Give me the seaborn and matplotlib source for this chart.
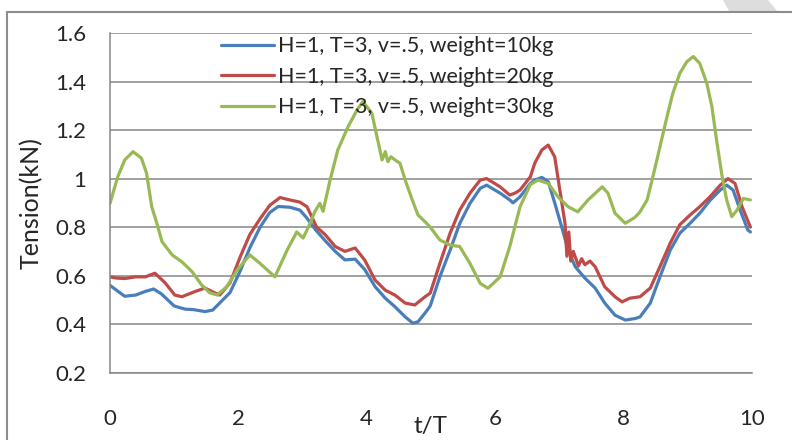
import matplotlib
matplotlib.use('Agg')
import matplotlib.pyplot as plt
import matplotlib.patches as mpatches
import seaborn as sns
import pandas as pd
import numpy as np

# values (t/T, tension in kN)
t_10kg = [0, 0.1, 0.23, 0.4, 0.55, 0.68, 0.8, 0.9, 1.0, 1.17, 1.3, 1.48, 1.6, 1.72, 1.87,
          2.03, 2.18, 2.34, 2.49, 2.62, 2.8, 2.96, 3.06, 3.2, 3.35, 3.51, 3.66, 3.82, 3.97,
          4.13, 4.29, 4.44, 4.6, 4.72, 4.8, 4.91, 4.99, 5.14, 5.3, 5.45, 5.61, 5.77, 5.87,
          6.08, 6.23, 6.28, 6.39, 6.55, 6.62, 6.73, 6.83, 6.93, 7.04, 7.14, 7.25, 7.4, 7.56,
          7.71, 7.87, 8.03, 8.18, 8.26, 8.42, 8.57, 8.73, 8.88, 9.04, 9.19, 9.35, 9.51, 9.61,
          9.71, 9.82, 9.94, 9.98]
tension_10kg = [0.56, 0.54, 0.515, 0.52, 0.535, 0.545, 0.525, 0.50, 0.475, 0.462, 0.46, 0.452,
                0.458, 0.49, 0.53, 0.62, 0.715, 0.80, 0.86, 0.885, 0.882, 0.87, 0.84, 0.79,
                0.745, 0.70, 0.665, 0.668, 0.625, 0.555, 0.507, 0.472, 0.43, 0.404, 0.41,
                0.446, 0.475, 0.595, 0.705, 0.815, 0.898, 0.96, 0.973, 0.94, 0.912, 0.90,
                0.925, 0.98, 0.994, 1.005, 0.987, 0.90, 0.80, 0.705, 0.637, 0.59, 0.549,
                0.487, 0.437, 0.417, 0.423, 0.43, 0.487, 0.595, 0.705, 0.775, 0.816, 0.857,
                0.91, 0.953, 0.973, 0.953, 0.87, 0.788, 0.78]

t_20kg = [0, 0.1, 0.23, 0.4, 0.55, 0.7, 0.86, 1.01, 1.12, 1.32, 1.48, 1.64, 1.71, 1.87, 2.03,
          2.18, 2.34, 2.49, 2.65, 2.8, 2.96, 3.07, 3.22, 3.35, 3.51, 3.66, 3.82, 3.97, 4.13,
          4.29, 4.44, 4.6, 4.75, 4.91, 4.99, 5.14, 5.3, 5.45, 5.61, 5.77, 5.87, 6.08, 6.23,
          6.31, 6.39, 6.55, 6.62, 6.73, 6.83, 6.93, 7.01, 7.09, 7.12, 7.15, 7.18, 7.22, 7.3,
          7.35, 7.4, 7.48, 7.56, 7.71, 7.87, 7.98, 8.1, 8.26, 8.42, 8.57, 8.73, 8.88, 9.04,
          9.19, 9.35, 9.51, 9.63, 9.74, 9.85, 9.98]
tension_20kg = [0.595, 0.59, 0.588, 0.595, 0.595, 0.61, 0.57, 0.52, 0.513, 0.534, 0.549, 0.528,
                0.52, 0.57, 0.678, 0.77, 0.835, 0.89, 0.922, 0.912, 0.903, 0.884, 0.80, 0.77,
                0.72, 0.70, 0.714, 0.664, 0.582, 0.54, 0.52, 0.487, 0.479, 0.513, 0.528, 0.65,
                0.775, 0.87, 0.94, 0.994, 1.0, 0.966, 0.932, 0.94, 0.953, 1.007, 1.064, 1.118,
                1.138, 1.09, 0.953, 0.817, 0.68, 0.78, 0.66, 0.70, 0.64, 0.67, 0.645, 0.66,
                0.637, 0.554, 0.513, 0.492, 0.507, 0.513, 0.549, 0.637, 0.734, 0.81, 0.85,
                0.884, 0.925, 0.973, 1.0, 0.98, 0.884, 0.80]

t_30kg = [0, 0.12, 0.23, 0.36, 0.49, 0.57, 0.65, 0.73, 0.81, 0.97, 1.12, 1.28, 1.43, 1.55, 1.67,
          1.82, 1.98, 2.18, 2.34, 2.57, 2.76, 2.91, 3.01, 3.12, 3.19, 3.27, 3.32, 3.43, 3.55,
          3.71, 3.85, 3.94, 4.08, 4.16, 4.24, 4.29, 4.33, 4.38, 4.44, 4.52, 4.6, 4.71, 4.8,
          4.91, 4.99, 5.14, 5.3, 5.45, 5.61, 5.77, 5.89, 6.08, 6.23, 6.39, 6.55, 6.67, 6.83,
          6.98, 7.14, 7.29, 7.45, 7.67, 7.76, 7.87, 8.03, 8.18, 8.26, 8.37, 8.46, 8.57, 8.68,
          8.77, 8.88, 8.99, 9.09, 9.19, 9.3, 9.38, 9.46, 9.54, 9.61, 9.69, 9.77, 9.87, 9.98]
tension_30kg = [0.898, 1.007, 1.077, 1.111, 1.084, 1.022, 0.884, 0.816, 0.74, 0.685, 0.657,
                0.616, 0.561, 0.53, 0.52, 0.554, 0.623, 0.685, 0.65, 0.595, 0.705, 0.78, 0.755,
                0.816, 0.863, 0.898, 0.865, 0.994, 1.118, 1.214, 1.283, 1.317, 1.27, 1.173,
                1.077, 1.111, 1.07, 1.09, 1.077, 1.063, 0.994, 0.912, 0.85, 0.822, 0.80, 0.747,
                0.726, 0.72, 0.65, 0.568, 0.548, 0.595, 0.72, 0.884, 0.975, 0.994, 0.98, 0.925,
                0.884, 0.863, 0.912, 0.966, 0.94, 0.857, 0.816, 0.84, 0.863, 0.912, 1.007,
                1.131, 1.255, 1.351, 1.434, 1.482, 1.503, 1.475, 1.393, 1.296, 1.145, 1.007,
                0.912, 0.843, 0.87, 0.918, 0.912]

series_labels = ['H=1, T=3, v=.5, weight=10kg',
                 'H=1, T=3, v=.5, weight=20kg',
                 'H=1, T=3, v=.5, weight=30kg']
series_colors = ['#4A7EBB', '#BE4B48', '#98B954']

x_ticks = [0, 2, 4, 6, 8, 10]
y_ticks = [0.2, 0.4, 0.6, 0.8, 1.0, 1.2, 1.4, 1.6]

frames = []
for t, v, lab in zip([t_10kg, t_20kg, t_30kg],
                     [tension_10kg, tension_20kg, tension_30kg], series_labels):
    frames.append(pd.DataFrame({'t/T': t, 'Tension(kN)': v, 'series': lab}))
df = pd.concat(frames, ignore_index=True)

sns.set_style('white')
plt.rcParams['font.family'] = ['Lato', 'DejaVu Sans']
grey = '#868686'

fig = plt.figure(figsize=(7.92, 4.4), dpi=100)
ax = fig.add_axes([110 / 792, 1 - 372.7 / 440, 641.7 / 792, 339.7 / 440])

sns.lineplot(data=df, x='t/T', y='Tension(kN)', hue='series', hue_order=series_labels,
             palette=series_colors, sort=False, estimator=None, linewidth=2.3, ax=ax)

ax.set_xlim(0, 10)
ax.set_ylim(0.2, 1.6)
ax.set_xticks(x_ticks)
ax.set_yticks(y_ticks)
ax.set_xticklabels([f'{v:g}' for v in x_ticks])
ax.set_yticklabels([f'{v:g}' for v in y_ticks])
ax.tick_params(axis='x', direction='out', length=5, width=1.1, color=grey, pad=21, labelsize=16)
ax.tick_params(axis='y', direction='out', length=5, width=1.1, color=grey, pad=12, labelsize=16)
ax.yaxis.grid(True, color=grey, linewidth=1.1)
ax.xaxis.grid(False)
for side in ['top', 'right']:
    ax.spines[side].set_visible(False)
for side in ['left', 'bottom']:
    ax.spines[side].set_color(grey)
    ax.spines[side].set_linewidth(1.1)

ax.set_xlabel('t/T', fontsize=17.5)
ax.xaxis.set_label_coords(0.5, -0.128)
ax.set_ylabel('Tension(kN)', fontsize=18)
ax.yaxis.set_label_coords(-0.104, 0.5)

ax.legend(loc='upper left', bbox_to_anchor=(0.173, 0.99), frameon=False, fontsize=15.5,
          handlelength=2.45, handletextpad=0.2, labelspacing=0.48, borderpad=0,
          borderaxespad=0)

# outer chart frame and the faint mark in the top right corner
fig.add_artist(plt.Line2D([7 / 792, 1], [1 - 12 / 440, 1 - 12 / 440], color='#8c8c8c',
                          linewidth=1.5, transform=fig.transFigure))
fig.add_artist(plt.Line2D([7 / 792, 7 / 792], [0, 1 - 12 / 440], color='#8c8c8c',
                          linewidth=1.5, transform=fig.transFigure))
fig.add_artist(mpatches.Polygon([[723 / 792, 1], [768 / 792, 1], [777 / 792, 1 - 11 / 440],
                                 [729 / 792, 1 - 11 / 440]], closed=True, facecolor='#dddddd',
                                edgecolor='none', transform=fig.transFigure))

fig.savefig('out.png', dpi=100)
